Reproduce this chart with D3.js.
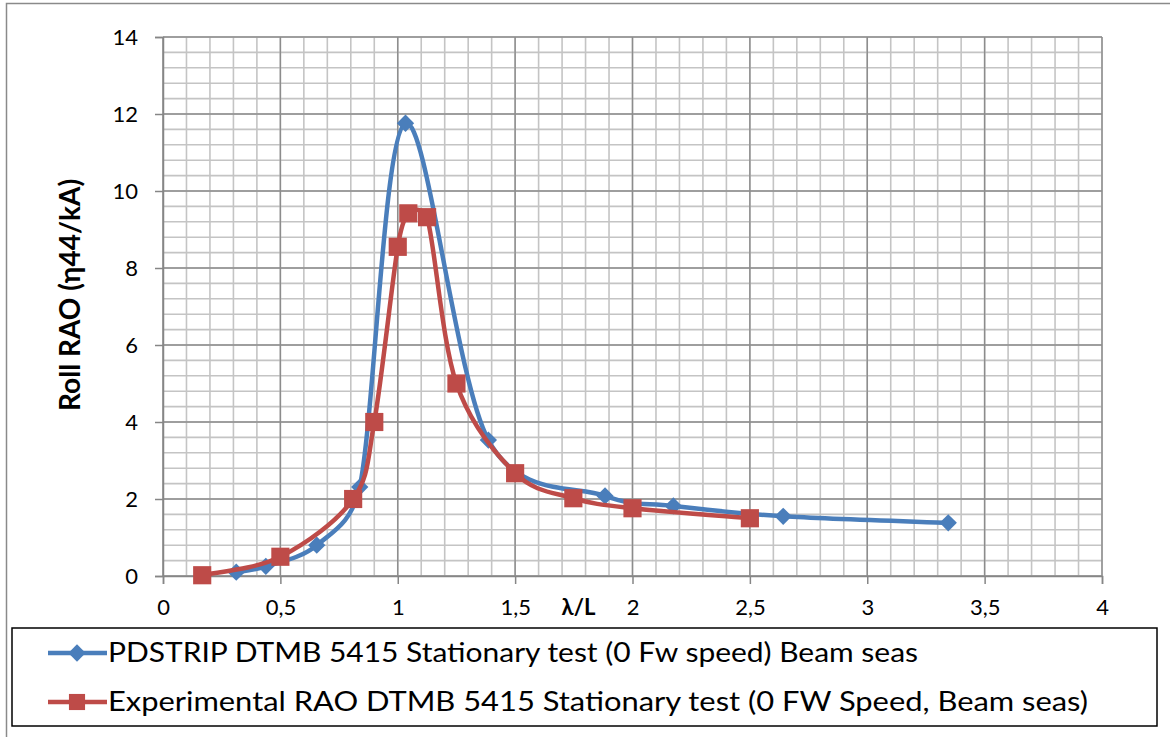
<!DOCTYPE html>
<html>
<head>
<meta charset="utf-8">
<script src="https://cdnjs.cloudflare.com/ajax/libs/d3/7.8.5/d3.min.js"></script>
<style>
  html, body { margin: 0; padding: 0; background: #ffffff; }
  svg { display: block; }
  text { font-family: Lato, "Open Sans", "DejaVu Sans", sans-serif; }
</style>
</head>
<body>
<svg id="chart" width="1170" height="737"></svg>
<script>
// ---- data ----
const pdstripX = [0.312, 0.438, 0.655, 0.838, 1.033, 1.386, 1.883, 2.174, 2.642, 3.345];
const pdstripY = [0.10, 0.25, 0.80, 2.31, 11.76, 3.53, 2.08, 1.82, 1.55, 1.38];
const expX = [0.167, 0.5, 0.81, 0.9, 1.0, 1.045, 1.125, 1.25, 1.5, 1.748, 2.0, 2.5];
const expY = [0.02, 0.50, 2.00, 4.00, 8.55, 9.42, 9.32, 5.00, 2.67, 2.02, 1.76, 1.50];
const seriesNames = [
  "PDSTRIP DTMB 5415 Stationary test (0 Fw speed) Beam seas",
  "Experimental RAO DTMB 5415 Stationary test (0 FW Speed, Beam seas)"
];
const xTickValues = [0, 0.5, 1, 1.5, 2, 2.5, 3, 3.5, 4];
const xTickLabels = ["0", "0,5", "1", "1,5", "2", "2,5", "3", "3,5", "4"];
const yTickValues = [0, 2, 4, 6, 8, 10, 12, 14];
const yTickLabels = ["0", "2", "4", "6", "8", "10", "12", "14"];
const xTitle = "λ/L";
const yTitle = "Roll RAO (η44/kA)";

const svg = d3.select("#chart");
const W = 1170, H = 737;
const plot = { left: 163, right: 1102, top: 37, bottom: 576 };

const x = d3.scaleLinear().domain([0, 4]).range([plot.left, plot.right]);
const y = d3.scaleLinear().domain([0, 14]).range([plot.bottom, plot.top]);

// outer chart border
svg.append("rect").attr("x", 6.5).attr("y", 3.5).attr("width", W).attr("height", H)
  .attr("fill", "#fff").attr("stroke", "#8a8a8a").attr("stroke-width", 1.5);

// minor grid
const g = svg.append("g");
const minorX = d3.range(0, 40.5, 1).map(d => d / 10);
const minorY = d3.range(0, 35.5, 1).map(d => d * 0.4);
g.selectAll(".mx").data(minorX).enter().append("line")
  .attr("x1", d => x(d)).attr("x2", d => x(d))
  .attr("y1", plot.top).attr("y2", plot.bottom)
  .attr("stroke", "#c4c4c4").attr("stroke-width", 1.6);
g.selectAll(".my").data(minorY).enter().append("line")
  .attr("y1", d => y(d)).attr("y2", d => y(d))
  .attr("x1", plot.left).attr("x2", plot.right)
  .attr("stroke", "#c4c4c4").attr("stroke-width", 1.6);
// major grid
g.selectAll(".Mx").data(xTickValues).enter().append("line")
  .attr("x1", d => x(d)).attr("x2", d => x(d))
  .attr("y1", plot.top).attr("y2", plot.bottom)
  .attr("stroke", "#8c8c8c").attr("stroke-width", 1.4);
g.selectAll(".My").data(yTickValues).enter().append("line")
  .attr("y1", d => y(d)).attr("y2", d => y(d))
  .attr("x1", plot.left).attr("x2", plot.right)
  .attr("stroke", "#8c8c8c").attr("stroke-width", 1.4);

// axes
const yAxis = d3.axisLeft(y).tickValues(yTickValues).tickSize(8).tickPadding(17)
  .tickFormat((d, i) => yTickLabels[i]);
const xAxis = d3.axisBottom(x).tickValues(xTickValues).tickSize(8).tickPadding(15)
  .tickFormat((d, i) => xTickLabels[i]);
const ya = svg.append("g").attr("transform", `translate(${plot.left},0)`).call(yAxis);
const xa = svg.append("g").attr("transform", `translate(0,${plot.bottom})`).call(xAxis);
[ya, xa].forEach(a => {
  a.select(".domain").attr("stroke", "#868686").attr("stroke-width", 1.5);
  a.selectAll(".tick line").attr("stroke", "#868686").attr("stroke-width", 1.5);
  a.selectAll(".tick text").attr("fill", "#000").style("font-size", "22px")
    .style("font-family", "Lato, 'Open Sans', sans-serif");
});

// titles
svg.append("text").attr("x", x(1.77)).attr("y", 615)
  .attr("text-anchor", "middle").style("font-size", "22px").style("font-weight", "bold")
  .text(xTitle);
svg.append("text").attr("transform", `translate(80,${y(7.3)}) rotate(-90)`)
  .attr("text-anchor", "middle").style("font-size", "28px").style("font-weight", "bold")
  .text(yTitle);

// Excel-like smoothed line (Bezier, 1/6 tangents capped at half the segment length)
function smoothPath(pts) {
  const p = d3.path();
  const P = pts.map(d => [x(d[0]), y(d[1])]);
  const dist = (a, b) => Math.hypot(b[0] - a[0], b[1] - a[1]);
  p.moveTo(P[0][0], P[0][1]);
  for (let i = 0; i < P.length - 1; i++) {
    const p0 = P[i - 1] || P[i], p1 = P[i], p2 = P[i + 1], p3 = P[i + 2] || P[i + 1];
    const d12 = dist(p1, p2), d02 = dist(p0, p2), d13 = dist(p1, p3);
    const f0 = d02 > 0 ? Math.min(1 / 6, d12 / (2 * d02)) : 0;
    const f3 = d13 > 0 ? Math.min(1 / 6, d12 / (2 * d13)) : 0;
    p.bezierCurveTo(
      p1[0] + (p2[0] - p0[0]) * f0, p1[1] + (p2[1] - p0[1]) * f0,
      p2[0] - (p3[0] - p1[0]) * f3, p2[1] - (p3[1] - p1[1]) * f3,
      p2[0], p2[1]);
  }
  return p.toString();
}

// series
const blue = "#4A7EBB", red = "#BE4B48";
const pd = pdstripX.map((v, i) => [v, pdstripY[i]]);
const ex = expX.map((v, i) => [v, expY[i]]);

svg.append("path").attr("d", smoothPath(pd)).attr("fill", "none")
  .attr("stroke", blue).attr("stroke-width", 4.5).attr("stroke-linejoin", "round");
const diamond = d3.symbol().type(d3.symbolSquare).size(150);
svg.selectAll(".pdm").data(pd).enter().append("path")
  .attr("d", diamond)
  .attr("transform", d => `translate(${x(d[0])},${y(d[1])}) rotate(45)`)
  .attr("fill", blue);

svg.append("path").attr("d", smoothPath(ex)).attr("fill", "none")
  .attr("stroke", red).attr("stroke-width", 4.5).attr("stroke-linejoin", "round");
const square = d3.symbol().type(d3.symbolSquare).size(330);
svg.selectAll(".exm").data(ex).enter().append("path")
  .attr("d", square)
  .attr("transform", d => `translate(${x(d[0])},${y(d[1])})`)
  .attr("fill", red);

// legend
const lg = svg.append("g");
lg.append("rect").attr("x", 12).attr("y", 628).attr("width", 1145).attr("height", 98)
  .attr("fill", "#fff").attr("stroke", "#000").attr("stroke-width", 1.5);
const legendRows = [
  { name: seriesNames[0], color: blue, sym: diamond, rot: 45, cy: 653, w: 810 },
  { name: seriesNames[1], color: red, sym: d3.symbol().type(d3.symbolSquare).size(260), rot: 0, cy: 702, w: 980 }
];
legendRows.forEach(r => {
  lg.append("line").attr("x1", 48).attr("x2", 107).attr("y1", r.cy).attr("y2", r.cy)
    .attr("stroke", r.color).attr("stroke-width", 4.5);
  lg.append("path").attr("d", r.sym).attr("fill", r.color)
    .attr("transform", `translate(77,${r.cy}) rotate(${r.rot})`);
  lg.append("text").attr("x", 108).attr("y", r.cy + 9).style("font-size", "26px")
    .attr("textLength", r.w).attr("lengthAdjust", "spacingAndGlyphs")
    .attr("fill", "#000").text(r.name);
});
</script>
</body>
</html>
